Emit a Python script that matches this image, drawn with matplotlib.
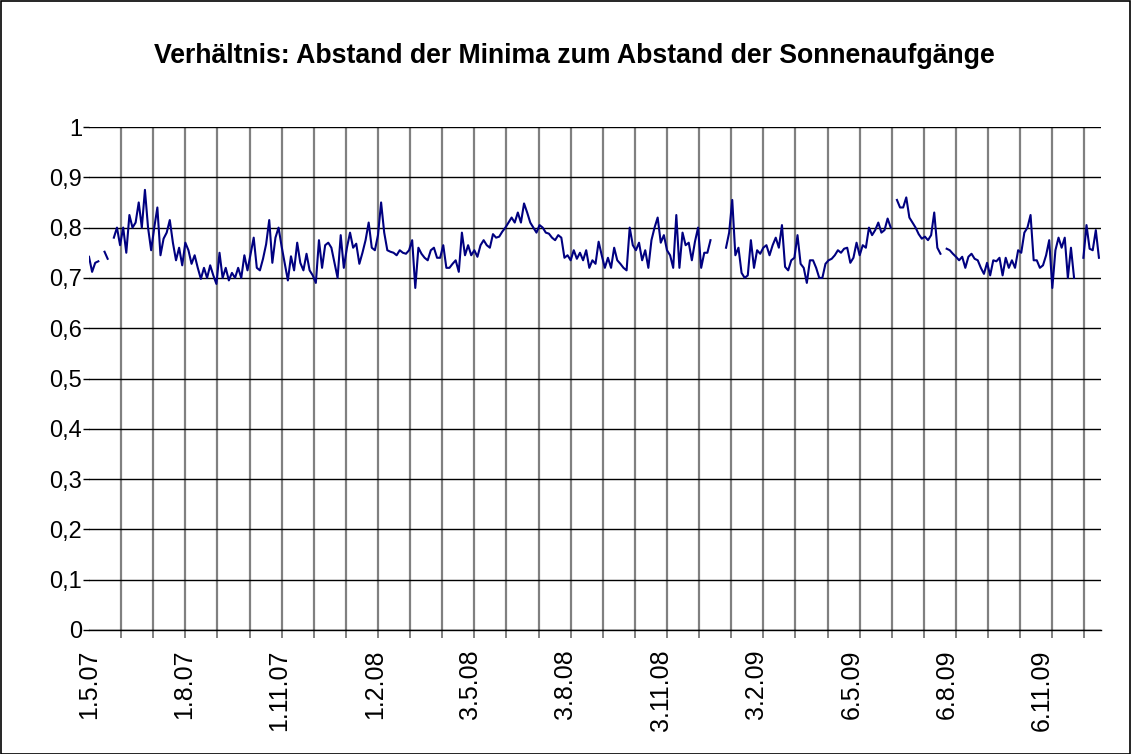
import numpy as np
import pandas as pd
import matplotlib
matplotlib.use("Agg")
import matplotlib.pyplot as plt
from matplotlib.patches import Rectangle

plt.rcParams['font.family'] = ['Liberation Sans', 'DejaVu Sans']

title = "Verhältnis: Abstand der Minima zum Abstand der Sonnenaufgänge"

x_tick_labels = ['1.5.07', '1.8.07', '1.11.07', '1.2.08', '3.5.08', '3.8.08',
                 '3.11.08', '3.2.09', '6.5.09', '6.8.09', '6.11.09']
y_tick_labels = ['0', '0,1', '0,2', '0,3', '0,4', '0,5', '0,6', '0,7', '0,8', '0,9', '1']

# one value every 3 days starting 1.5.07 (None = no value)
step_days = 3
ratio = [
    0.742, 0.712, 0.73, 0.733, None, 0.752, 0.738, None, 0.78, 0.80,
    0.765, 0.80, 0.75, 0.825, 0.80, 0.81, 0.85, 0.80, 0.875, 0.80,
    0.755, 0.80, 0.84, 0.745, 0.778, 0.79, 0.815, 0.77, 0.735, 0.76,
    0.725, 0.77, 0.755, 0.728, 0.745, 0.72, 0.698, 0.72, 0.70, 0.725,
    0.705, 0.688, 0.75, 0.70, 0.72, 0.695, 0.71, 0.70, 0.72, 0.70,
    0.745, 0.715, 0.748, 0.78, 0.72, 0.715, 0.738, 0.767, 0.815, 0.73,
    0.78, 0.80, 0.762, 0.728, 0.695, 0.743, 0.715, 0.77, 0.73, 0.715,
    0.748, 0.715, 0.705, 0.69, 0.775, 0.72, 0.765, 0.77, 0.76, 0.73,
    0.70, 0.785, 0.72, 0.76, 0.79, 0.76, 0.768, 0.728, 0.75, 0.775,
    0.81, 0.76, 0.755, 0.785, 0.85, 0.79, 0.755, 0.752, 0.75, 0.745,
    0.755, 0.75, 0.748, 0.755, 0.775, 0.68, 0.76, 0.748, 0.74, 0.735,
    0.755, 0.76, 0.74, 0.74, 0.765, 0.72, 0.72, 0.728, 0.735, 0.712,
    0.79, 0.745, 0.765, 0.745, 0.755, 0.742, 0.765, 0.775, 0.765, 0.76,
    0.787, 0.78, 0.782, 0.792, 0.80, 0.81, 0.82, 0.81, 0.83, 0.81,
    0.848, 0.83, 0.81, 0.80, 0.79, 0.805, 0.80, 0.79, 0.788, 0.78,
    0.775, 0.785, 0.78, 0.74, 0.745, 0.735, 0.755, 0.738, 0.75, 0.735,
    0.755, 0.72, 0.735, 0.728, 0.772, 0.745, 0.72, 0.74, 0.72, 0.76,
    0.735, 0.728, 0.72, 0.715, 0.80, 0.765, 0.755, 0.77, 0.735, 0.755,
    0.72, 0.775, 0.80, 0.82, 0.77, 0.785, 0.755, 0.745, 0.72, 0.825,
    0.72, 0.79, 0.765, 0.77, 0.735, 0.772, 0.80, 0.72, 0.75, 0.75,
    0.775, None, None, None, None, 0.76, 0.79, 0.855, 0.745, 0.76,
    0.71, 0.70, 0.705, 0.775, 0.72, 0.755, 0.748, 0.76, 0.765, 0.745,
    0.765, 0.78, 0.76, 0.805, 0.722, 0.715, 0.735, 0.74, 0.785, 0.728,
    0.72, 0.69, 0.735, 0.735, 0.72, 0.70, 0.70, 0.728, 0.735, 0.738,
    0.745, 0.755, 0.75, 0.758, 0.76, 0.73, 0.74, 0.77, 0.745, 0.765,
    0.76, 0.80, 0.785, 0.795, 0.81, 0.79, 0.795, 0.818, 0.80, None,
    0.855, 0.84, 0.84, 0.86, 0.82, 0.81, 0.80, 0.787, 0.778, 0.782,
    0.775, 0.785, 0.83, 0.76, 0.748, None, 0.758, 0.755, 0.748, 0.742,
    0.735, 0.742, 0.72, 0.742, 0.748, 0.738, 0.735, 0.72, 0.708, 0.73,
    0.705, 0.735, 0.733, 0.74, 0.705, 0.74, 0.72, 0.735, 0.72, 0.755,
    0.75, 0.79, 0.80, 0.825, 0.735, 0.735, 0.72, 0.725, 0.745, 0.775,
    0.68, 0.755, 0.78, 0.76, 0.78, 0.70, 0.76, 0.70, None, None,
    0.74, 0.805, 0.758, 0.755, 0.795, 0.74,
]

grid_step_days = 31
axis_span_days = 977

label_dates = pd.to_datetime(x_tick_labels, format='%d.%m.%y')
start = label_dates[0]
dates = start + pd.to_timedelta(np.arange(len(ratio)) * step_days, unit='D')
values = np.array(ratio, dtype=float)
end = start + pd.Timedelta(days=axis_span_days)
grid_dates = pd.date_range(start, end, freq=f'{grid_step_days}D')

W, H = 1131, 754
fig = plt.figure(figsize=(W / 100, H / 100), dpi=100)
fig.patch.set_facecolor('white')
ax = fig.add_axes([89 / W, 1 - 630 / H, (1101 - 89) / W, (630 - 127) / H])

ax.plot(dates, values, color='#000080', lw=1.5, zorder=3)

ax.set_xlim(start, end)
ax.set_ylim(0, 1)

yt = [float(s.replace(',', '.')) for s in y_tick_labels]
ax.set_yticks(yt)
ax.set_yticklabels(y_tick_labels)
ax.yaxis.grid(True, color='black', lw=1.0)

ax.set_xticks(label_dates)
ax.set_xticklabels(x_tick_labels, rotation=90, ha='center', va='top')
ax.set_xticks(grid_dates, minor=True)
ax.xaxis.grid(True, which='minor', color='#808080', lw=1.6)
ax.xaxis.grid(False, which='major')
ax.set_axisbelow(True)

ax.tick_params(axis='x', which='major', length=0, pad=14, labelsize=18)
ax.tick_params(axis='x', which='minor', length=5.5, width=1.4, color='#808080')
ax.tick_params(axis='y', length=4.5, width=1.0, color='black', pad=0.5, labelsize=17)

for s in ['top', 'right', 'left']:
    ax.spines[s].set_visible(False)
ax.spines['bottom'].set_color('black')
ax.spines['bottom'].set_linewidth(1.0)

fig.text(574 / W, 1 - 56 / H, title, ha='center', va='center',
         fontsize=19.2, fontweight='bold')

fig.patches.append(Rectangle((0.5 / W, 0.5 / H), (W - 1.5) / W, (H - 1.5) / H,
                             transform=fig.transFigure, fill=False,
                             ec='black', lw=1.2))

fig.savefig('out.png', dpi=100)
